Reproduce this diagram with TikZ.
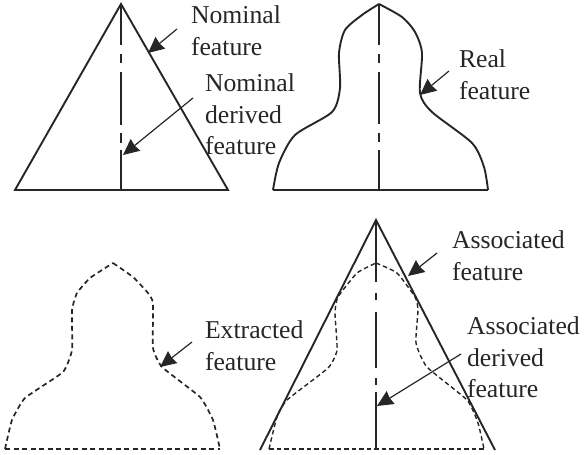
\documentclass[tikz,border=0pt]{standalone}
\usepackage{fontspec}
\setmainfont{Liberation Serif}
\usetikzlibrary{arrows.meta}
\definecolor{ink}{HTML}{262626}
\tikzset{
  line/.style={draw=ink,line width=1.9pt,line join=miter},
  dashline/.style={draw=ink,line width=1.7pt,dash pattern=on 5pt off 3.5pt},
  assocdash/.style={draw=ink,line width=1.4pt,dash pattern=on 4.5pt off 3pt},
  callout/.style={draw=ink,line width=1.2pt,-{Stealth[length=16pt,width=15pt,inset=1pt]}},
  lab/.style={text=ink,inner sep=0pt,outer sep=0pt,anchor=north west,align=left,
    font=\fontsize{25.7}{31.5}\selectfont},
}
\begin{document}
\begin{tikzpicture}[x=1pt,y=-1pt]
\useasboundingbox (0,0) rectangle (584,455);
% top-left nominal
\coordinate (a) at (121,4); \coordinate (b) at (15,190); \coordinate (c) at (228,190);
\draw[line] (b) -- (a) -- (c) -- cycle;
\foreach \p/\q in {4/45,54/63,72/125,133/143,150/190}{\draw[line] (121,\p) -- (121,\q);}
% top-right real
\draw[line] plot[smooth,tension=.45] coordinates {(273,190) (279,163) (295,135) (332,112) (340,88) (339,53) (345,30) (362,15) (379,4)};
\draw[line] plot[smooth,tension=.45] coordinates {(379,4) (402,17) (415,32) (422,53) (420,93) (432,112) (472,143) (484,167) (488,190)};
\draw[line] (273,190) -- (488,190);
\foreach \p/\q in {4/45,54/63,72/124,133/142,150/190}{\draw[line] (379,\p) -- (379,\q);}
% bottom-left extracted
\draw[dashline] plot[smooth,tension=.25] coordinates {(5,449) (12,420) (25,398) (63,372) (72,350) (72,310) (77,293) (90,278) (113,263)};
\draw[dashline] plot[smooth,tension=.25] coordinates {(113,263) (133,277) (148,293) (153,303) (153,348) (162,367) (200,397) (213,420) (220,449)};
\draw[dashline] (5,449) -- (220,449);
% bottom-right associated
\coordinate (d) at (376,220); \coordinate (e) at (260,450); \coordinate (f) at (495,450);
\draw[line] (e) -- (d) -- (f);
\foreach \p/\q in {220/282,293/300,312/368,378/385,392/450}{\draw[line] (376,\p) -- (376,\q);}
\draw[assocdash] plot[smooth,tension=.3] coordinates {(269,449) (277,417) (287,400) (328,368) (337,350) (335,313) (338,297) (357,273) (376,263)};
\draw[assocdash] plot[smooth,tension=.3] coordinates {(376,263) (397,273) (415,297) (418,310) (416,343) (427,367) (467,400) (478,423) (484,449)};
\draw[assocdash] (269,449) -- (484,449);
% labels
\node[lab] (nf) at (191,6) {Nominal\\feature};
\node[lab] (ndf) at (205,74) {Nominal\\derived\\feature};
\node[lab] (rf) at (459,50) {Real\\feature};
\node[lab] (ef) at (205,321) {Extracted\\feature};
\node[lab] (af) at (452,231) {Associated\\feature};
\node[lab] (adf) at (467,317) {Associated\\derived\\feature};
% callouts
\coordinate (s1) at (177,29); \coordinate (t1) at (148,53);
\coordinate (s2) at (193,98); \coordinate (t2) at (123,155);
\coordinate (s3) at (449,71); \coordinate (t3) at (420,95);
\coordinate (s4) at (192,342); \coordinate (t4) at (160,367);
\coordinate (s5) at (437,253); \coordinate (t5) at (408,276);
\coordinate (s6) at (461,354); \coordinate (t6) at (377,406);
\foreach \i in {1,...,6}{\draw[callout] (s\i) -- (t\i);}
\end{tikzpicture}
\end{document}
